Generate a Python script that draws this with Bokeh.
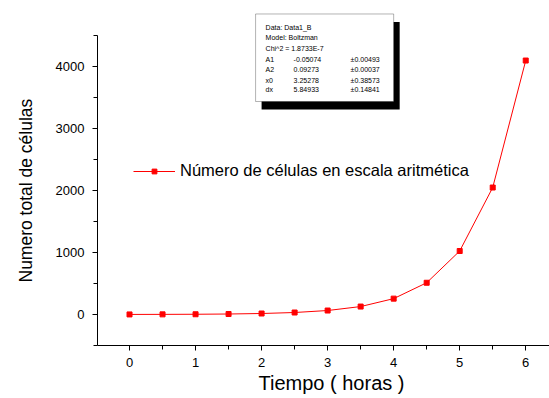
from bokeh.plotting import figure
from bokeh.models import (Range1d, SingleIntervalTicker, BoxAnnotation, Label,
                          Legend, LegendItem, Title)
from bokeh.embed import file_html
from bokeh.resources import INLINE

# ---- data ----
hours = [0, 0.5, 1, 1.5, 2, 2.5, 3, 3.5, 4, 4.5, 5, 5.5, 6]
cells = [1, 2, 4, 8, 16, 32, 64, 128, 256, 512, 1024, 2048, 4096]
series_name = "Número de células en escala aritmética"
x_title = "Tiempo ( horas )"
y_title = "Numero total de células"
fit_header = ["Data: Data1_B", "Model: Boltzman", "Chi^2 = 1.8733E-7"]
fit_names = ["A1", "A2", "x0", "dx"]
fit_values = ["-0.05074", "0.09273", "3.25278", "5.84933"]
fit_errors = ["±0.00493", "±0.00037", "±0.38573", "±0.14841"]

FONT = "Liberation Sans"

p = figure(width=549, height=398,
           x_range=Range1d(-0.485, 6.36), y_range=Range1d(-500, 4903),
           output_backend="svg", toolbar_location=None,
           min_border_left=97, min_border_right=0, min_border_top=10,
           min_border_bottom=53)
p.outline_line_color = None
p.background_fill_color = "white"
p.border_fill_color = "white"
p.xgrid.grid_line_color = None
p.ygrid.grid_line_color = None

p.xaxis.ticker = SingleIntervalTicker(interval=1, num_minor_ticks=2)
p.yaxis.ticker = SingleIntervalTicker(interval=1000, num_minor_ticks=2)
p.yaxis.bounds = (-500, 4500)
for ax in (p.xaxis, p.yaxis):
    ax.axis_line_color = "black"
    ax.major_tick_line_color = "black"
    ax.minor_tick_line_color = "black"
    ax.major_tick_in = 0
    ax.major_tick_out = 5
    ax.minor_tick_in = 0
    ax.minor_tick_out = 4
    ax.major_label_text_font = FONT
    ax.major_label_text_font_size = "13px"
    ax.major_label_text_color = "black"
p.xaxis.major_label_standoff = 7
p.yaxis.major_label_standoff = 8

# axis titles placed as side titles so they can be positioned along the axis
xt = Title(text=x_title, align="left", offset=161, text_font=FONT,
           text_font_size="20px", text_font_style="normal",
           text_color="black", standoff=0)
yt = Title(text=y_title, align="left", offset=63, vertical_align="top",
           text_font=FONT, text_font_size="17.5px", text_font_style="normal",
           text_color="black", standoff=29)
p.add_layout(xt, "below")
p.add_layout(yt, "left")

ln = p.line(hours, cells, line_color="#ff0000", line_width=1)
sc = p.scatter(hours, cells, marker="square", size=5,
               fill_color="#ff0000", line_color="#ff0000")

legend = Legend(items=[LegendItem(label=series_name, renderers=[ln, sc])],
                location=(36, 165), glyph_width=42, glyph_height=12,
                label_height=12, label_standoff=5, padding=0, margin=0,
                spacing=0, border_line_color=None, background_fill_alpha=0,
                label_text_font=FONT, label_text_font_size="16.5px",
                label_text_color="black")
p.add_layout(legend, "center")

# fit-result box (drawn in data units)
shadow = BoxAnnotation(left=2.0, right=4.091, top=4718, bottom=3306,
                       fill_color="black", fill_alpha=1, line_color=None)
box = BoxAnnotation(left=1.909, right=4.0, top=4847, bottom=3435,
                    fill_color="white", fill_alpha=1, line_color="black",
                    line_width=1)
p.add_layout(shadow)
p.add_layout(box)

row_y = [4624, 4468, 4295, 4113, 3944, 3782, 3621]
col_x = [2.061, 2.485, 3.348]

def add_text(x, y, t):
    p.add_layout(Label(x=x, y=y, text=t, text_font=FONT,
                       text_font_size="7px", text_color="black",
                       text_baseline="middle", text_align="left"))

for i, t in enumerate(fit_header):
    add_text(col_x[0], row_y[i], t)
for j in range(len(fit_names)):
    y = row_y[len(fit_header) + j]
    add_text(col_x[0], y, fit_names[j])
    add_text(col_x[1], y, fit_values[j])
    add_text(col_x[2], y, fit_errors[j])

open("out.html", "w").write(file_html(p, INLINE))
